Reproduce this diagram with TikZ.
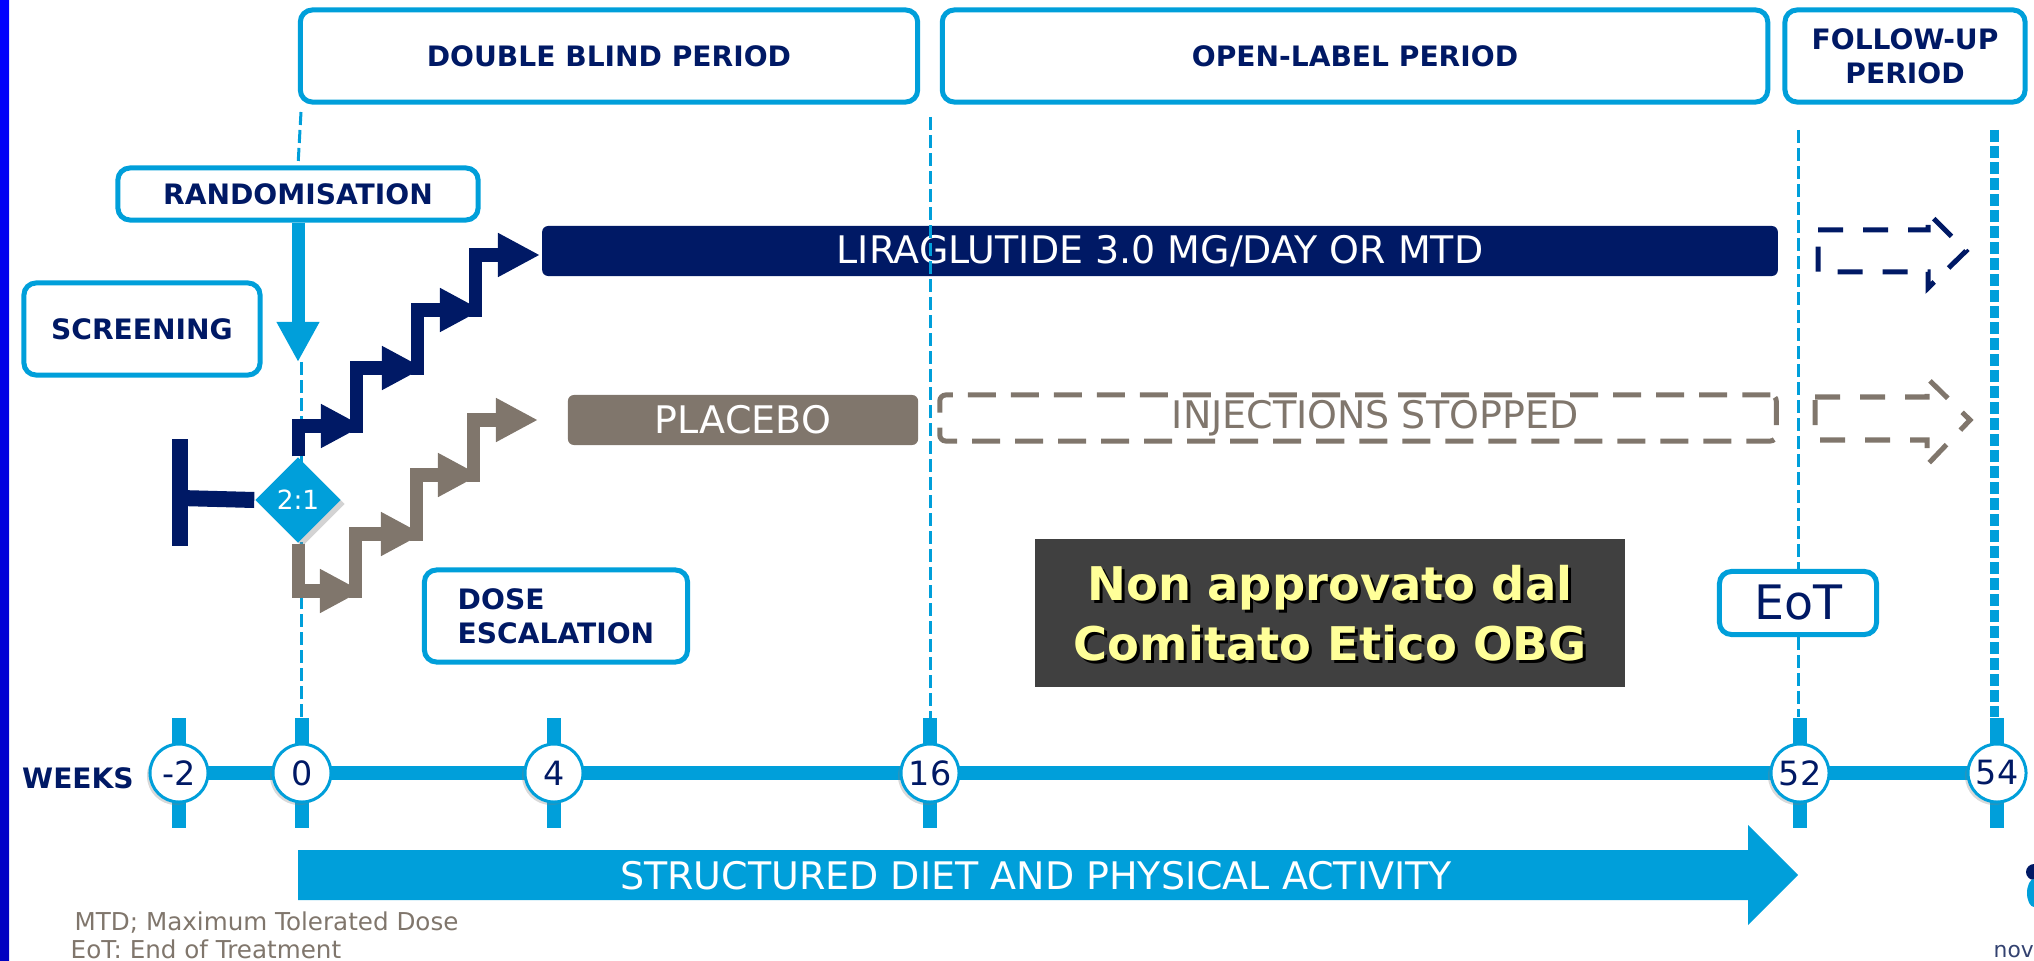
\documentclass[tikz,border=0pt]{standalone}
\usepackage{fontspec}
\setmainfont{DejaVu Sans}
\usetikzlibrary{arrows.meta,positioning,shapes.geometric,shadows}
\definecolor{NNblue}{HTML}{009FDA}
\definecolor{NNnavy}{HTML}{001965}
\definecolor{NNgrey}{HTML}{80766C}
\definecolor{NNdark}{HTML}{404040}
\definecolor{NNyellow}{HTML}{FFFF99}
\definecolor{SlideBlue}{HTML}{0000FF}
\definecolor{SlideBlueDk}{HTML}{0000C0}
\newcommand{\lblfont}{\fontsize{8}{9.6}\selectfont\bfseries}
\newcommand{\barfont}{\fontsize{10.8}{13}\selectfont}
\newcommand{\wkfont}{\fontsize{9.5}{11}\selectfont}
\newcommand{\eotfont}{\fontsize{13.5}{16}\selectfont}
\newcommand{\ratiofont}{\fontsize{7.5}{9}\selectfont}
\newcommand{\fnfont}{\fontsize{7}{8.4}\selectfont}
\newcommand{\warnfont}{\fontsize{13.2}{17}\selectfont\bfseries}

\begin{document}
\begin{tikzpicture}[x=0.01cm, y=-0.01cm,
  period/.style={draw=NNblue, line width=0.05cm, rounded corners=0.12cm, fill=white,
    text=NNnavy, font=\lblfont, align=center, inner sep=0pt},
  bar/.style={rounded corners=0.06cm, text=white, font=\barfont, inner sep=0pt, minimum height=0.5cm},
  vline/.style={NNblue, line width=0.03cm, dash pattern=on 0.13cm off 0.05cm},
  stairN/.style={NNnavy, line width=0.13cm, line join=miter, -{Triangle[length=0.42cm,width=0.41cm]}},
  stairG/.style={stairN, NNgrey},
  fuarrow/.style={line width=0.05cm, dash pattern=on 0.25cm off 0.2cm},
  wkcircle/.style={circle, draw=NNblue, line width=0.03cm, fill=white, minimum size=0.58cm,
    inner sep=0pt, text=NNnavy, font=\wkfont,
    drop shadow={shadow xshift=-0.03cm, shadow yshift=-0.03cm, opacity=0.3}},
  ratio/.style={diamond, fill=NNblue, minimum width=0.86cm, minimum height=0.86cm, inner sep=0pt,
    text=white, font=\ratiofont, drop shadow={shadow xshift=0.04cm, shadow yshift=-0.04cm, opacity=0.35}},
  warn/.style={text=NNyellow, font=\warnfont, align=center, inner sep=0pt}]
  \useasboundingbox (0,0) rectangle (2034,961);
  \clip (0,0) rectangle (2034,961);
  \shade[top color=SlideBlue, bottom color=SlideBlueDk] (0,0) rectangle (9,961);

  % periods and labels
  \node[period, minimum width=6.17cm, minimum height=0.92cm] (dbp) at (609,56) {DOUBLE BLIND PERIOD};
  \node[period, minimum width=8.25cm, minimum height=0.92cm] (olp) at (1355,56) {OPEN-LABEL PERIOD};
  \node[period, minimum width=2.4cm, minimum height=0.92cm] (fup) at (1905,56) {FOLLOW-UP\\PERIOD};
  \node[period, minimum width=3.6cm, minimum height=0.52cm] (rand) at (298,194) {RANDOMISATION};
  \node[period, minimum width=2.36cm, minimum height=0.92cm] (scr) at (142,329) {SCREENING};
  \node[period, align=left, minimum width=2.63cm, minimum height=0.92cm] (dose) at (556,616) {DOSE\\ESCALATION};
  \node[period, font=\eotfont, minimum width=1.57cm, minimum height=0.63cm] (eot) at (1798,603) {EoT};

  % treatment bars
  \node[bar, fill=NNnavy, minimum width=12.35cm] (lira) at (1160,251) {LIRAGLUTIDE 3.0 MG/DAY OR MTD};
  \node[bar, fill=NNgrey, minimum width=3.5cm] (plac) at (743,420) {PLACEBO};
  \node[bar, draw=NNgrey, line width=0.05cm, dash pattern=on 0.28cm off 0.15cm, text=NNgrey,
    minimum width=8.36cm, minimum height=0.46cm] (inj) at (1358,418) {\hspace*{0.34cm}INJECTIONS STOPPED};
  \draw[NNnavy, fuarrow] (1818,230) -- (1928,230) -- (1928,213) -- (1966,251) -- (1928,288) -- (1928,272) -- (1818,272) -- cycle;
  \draw[NNgrey, fuarrow] (1815,397) -- (1927,397) -- (1927,378) -- (1970,420) -- (1927,465) -- (1927,440) -- (1815,440) -- cycle;

  % visit lines
  \coordinate (randtip) at (298,362);
  \coordinate (v0a) at (301,112);
  \coordinate (v0b) at (301,362);
  \coordinate (v0c) at (301,718);
  \coordinate (v16a) at (930,117);
  \coordinate (v16b) at (930,718);
  \coordinate (v52a) at (1798,130);
  \coordinate (v52b) at (1798,717);
  \coordinate (v54a) at (1994,130);
  \coordinate (v54b) at (1994,717);
  \draw[vline] (v0a) -- (rand.north);
  \draw[vline] (v0b) -- (v0c);
  \draw[vline] (v16a) -- (v16b);
  \draw[vline] (v52a) -- (eot.north);
  \draw[vline] (eot.south) -- (v52b);
  \draw[vline, line width=0.09cm, dash pattern=on 0.12cm off 0.04cm] (v54a) -- (v54b);
  \draw[NNblue, line width=0.13cm, -{Triangle[length=0.4cm,width=0.4cm]}] (rand) -- (randtip);

  % screening and randomisation
  \node[ratio] (ratio) at (298,500) {2:1};
  \draw[NNnavy, line width=0.15cm] (180,439) -- (180,546);
  \draw[NNnavy, line width=0.16cm] (180,498) -- (ratio.west);
  \draw[stairN] (ratio.north) |- (363,426);
  \foreach \a/\b/\c/\d in {356/433/424/368, 417/375/482/310, 475/317/540/255}
    \draw[stairN] (\a,\b) |- (\c,\d);
  \draw[stairG] (ratio.south) |- (362,591);
  \foreach \a/\b/\c/\d in {355/598/423/534, 416/541/480/475, 473/482/538/420}
    \draw[stairG] (\a,\b) |- (\c,\d);

  % weeks axis
  \foreach \x [count=\i] in {179,302,554,930,1800,1997}
    \coordinate (t\i) at (\x,773);
  \draw[NNblue, line width=0.14cm] (t1) -- (t6);
  \foreach \i in {1,...,6}
    \draw[NNblue, line width=0.14cm] (t\i) ++(0,-55) -- ++(0,110);
  \foreach \w [count=\i] in {-2,0,4,16,52,54}
    \node[wkcircle] (wk\i) at (t\i) {\w};
  \node[text=NNnavy, font=\lblfont] (weeks) at (78,778) {WEEKS};

  % lifestyle arrow
  \fill[NNblue] (298,850) -- (1748,850) -- (1748,825) -- (1798,875) -- (1748,925) -- (1748,900) -- (298,900) -- cycle;
  \node[text=white, font=\barfont] (diet) at (1036,876) {STRUCTURED DIET AND PHYSICAL ACTIVITY};

  % note
  \node[fill=NNdark, minimum width=5.89cm, minimum height=1.48cm] (warnbox) at (1330,613) {};
  \node[warn, text=black] (warnsh) at (1333,616) {Non approvato dal\\Comitato Etico OBG};
  \node[warn] (warn) at (1330,613) {Non approvato dal\\Comitato Etico OBG};

  % footnotes and logo
  \node[anchor=base west, text=NNgrey, font=\fnfont, inner sep=0pt] (fn1) at (74,930) {MTD; Maximum Tolerated Dose};
  \node[anchor=base west, text=NNgrey, font=\fnfont, inner sep=0pt] (fn2) at (70,958) {EoT: End of Treatment};
  \fill[NNnavy] (2034,872) circle (8);
  \fill[NNblue] (2034,893) ellipse (7 and 14);
  \node[anchor=base west, inner sep=0pt, text=NNnavy!60!gray, font=\fontsize{6.2}{7}\selectfont] (novo) at (1993,957) {nov};
\end{tikzpicture}
\end{document}
